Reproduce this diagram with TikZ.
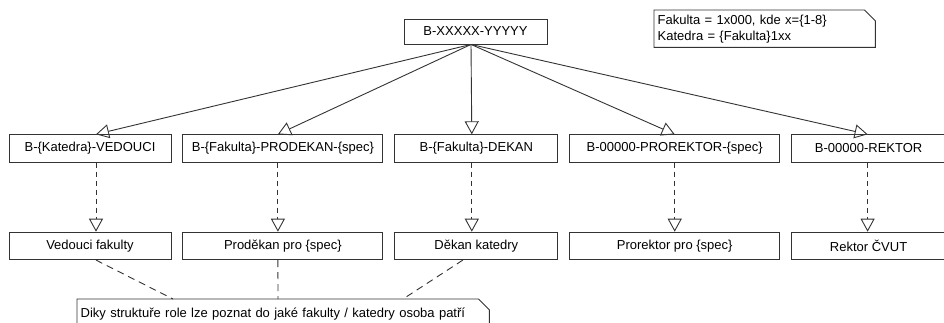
\documentclass[tikz,border=0pt]{standalone}
\usepackage{fontspec}
\setmainfont{Liberation Sans}
\usetikzlibrary{arrows.meta,positioning}

\begin{document}
\begin{tikzpicture}[
    x=1pt, y=1pt,
    node distance=69pt and 11pt,
    role/.style={draw=black!80, line width=0.9pt, rectangle, align=center, minimum width=#1, minimum height=27.5pt, inner sep=0pt, font=\fontsize{13}{15}\selectfont},
    note/.style={align=left, inner ysep=0pt, inner xsep=3.5pt, font=\fontsize{13}{16}\selectfont},
    notebox/.style={line width=0.9pt, draw=black!80},
    inherit/.style={-{Triangle[open, length=13pt, width=14pt]}, line width=0.9pt, draw=black!80},
    realize/.style={inherit, dash pattern=on 5pt off 4pt},
    anchorline/.style={line width=0.9pt, draw=black!80, dash pattern=on 7pt off 5pt}
  ]
    \useasboundingbox (0,0) rectangle (944,-322);

    \node (root) [role=143pt, minimum height=25pt] at (475.5,-31.5) {B-XXXXX-YYYYY};

    \node (vedouci) [role=162pt] at (90,-148.5) {B-\{Katedra\}-VEDOUCI};
    \node (prodekan) [role=200pt, right=of vedouci] {B-\{Fakulta\}-PRODEKAN-\{spec\}};
    \node (dekan) [role=163pt, right=of prodekan] {B-\{Fakulta\}-DEKAN};
    \node (prorektor) [role=210pt, right=of dekan] {B-00000-PROREKTOR-\{spec\}};
    \node (rektor) [role=154pt, right=of prorektor] {B-00000-REKTOR};

    \node (vedoucifak) [role=162pt, below=of vedouci] {Vedouci fakulty};
    \node (prodekanspec) [role=200pt, below=of prodekan] {Proděkan pro \{spec\}};
    \node (dekankat) [role=163pt, below=of dekan] {Děkan katedry};
    \node (prorektorspec) [role=210pt, below=of prorektor] {Prorektor pro \{spec\}};
    \node (rektorcvut) [role=154pt, below=of rektor] {Rektor ČVUT};

    \node (kodnote) [note, text width=214pt, minimum height=37pt, anchor=north west] at (654,-10) {Fakulta = 1x000, kde x=\{1-8\}\\Katedra = \{Fakulta\}1xx};
    \node (rolenote) [note, text width=405pt, minimum height=30pt, anchor=north west] at (77,-299) {Diky struktuře role lze poznat do jaké fakulty / katedry osoba patří};

    \draw [notebox] (kodnote.north west) -- ([xshift=-11pt]kodnote.north east) -- ([yshift=-11pt]kodnote.north east) -- (kodnote.south east) -- (kodnote.south west) -- cycle;
    \draw [notebox] (rolenote.north west) -- ([xshift=-11pt]rolenote.north east) -- ([yshift=-11pt]rolenote.north east) -- (rolenote.south east) -- (rolenote.south west) -- cycle;

    \draw [inherit] ([xshift=-4.5pt]root.south) -- ([xshift=6pt]vedouci.north);
    \draw [inherit] ([xshift=-4.5pt]root.south) -- ([xshift=-5pt]prodekan.north);
    \draw [inherit] ([xshift=-4.5pt]root.south) -- ([xshift=-4.5pt]dekan.north);
    \draw [inherit] ([xshift=-4.5pt]root.south) -- (prorektor.north);
    \draw [inherit] ([xshift=-4.5pt]root.south) -- ([xshift=-1pt]rektor.north);

    \draw [realize] ([xshift=6pt]vedouci.south) -- ([xshift=6pt]vedoucifak.north);
    \draw [realize] ([xshift=-5pt]prodekan.south) -- ([xshift=-5pt]prodekanspec.north);
    \draw [realize] ([xshift=-4.5pt]dekan.south) -- ([xshift=-4.5pt]dekankat.north);
    \draw [realize] (prorektor.south) -- (prorektorspec.north);
    \draw [realize] ([xshift=-1pt]rektor.south) -- ([xshift=-1pt]rektorcvut.north);

    \draw [anchorline] ([xshift=6pt]vedoucifak.south) -- ([xshift=96pt]rolenote.north west);
    \draw [anchorline] ([xshift=-5pt]prodekanspec.south) -- ([xshift=201pt]rolenote.north west);
    \draw [anchorline] ([xshift=-13.5pt]dekankat.south) -- ([xshift=326pt]rolenote.north west);
\end{tikzpicture}
\end{document}
